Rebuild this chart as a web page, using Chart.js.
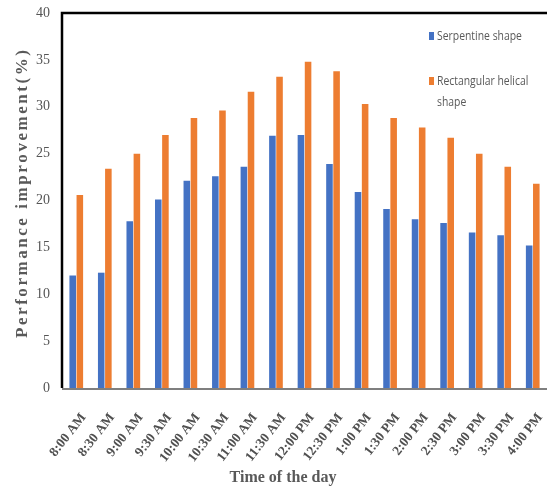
<!DOCTYPE html>
<html>
<head>
<meta charset="utf-8">
<script src="https://cdn.jsdelivr.net/npm/chart.js@4.4.1/dist/chart.umd.min.js"></script>
<style>
  html, body { margin: 0; padding: 0; background: #fff; overflow: hidden; }
  #wrap { width: 547px; height: 488px; position: relative; }
</style>
</head>
<body>
<div id="wrap"><canvas id="chart"></canvas></div>
<script>
// chart data
const times = ["8:00 AM", "8:30 AM", "9:00 AM", "9:30 AM", "10:00 AM", "10:30 AM", "11:00 AM", "11:30 AM",
  "12:00 PM", "12:30 PM", "1:00 PM", "1:30 PM", "2:00 PM", "2:30 PM", "3:00 PM", "3:30 PM", "4:00 PM"];
const serpentine = [12.0, 12.3, 17.8, 20.1, 22.1, 22.6, 23.6, 26.9, 27.0, 23.9, 20.9, 19.1, 18.0, 17.6, 16.6, 16.3, 15.2];
const rectHelical = [20.6, 23.4, 25.0, 27.0, 28.8, 29.6, 31.6, 33.2, 34.8, 33.8, 30.3, 28.8, 27.8, 26.7, 25.0, 23.6, 21.8];
const yTicks = [0, 5, 10, 15, 20, 25, 30, 35, 40];

const BLUE = "#4472C4";
const ORANGE = "#ED7D31";

// draw text char by char so it stretches to a given length
function spacedText(ctx, text, cx, cy, length) {
  const chars = text.split("");
  const natural = chars.reduce((s, c) => s + ctx.measureText(c).width, 0);
  const gap = (length - natural) / (chars.length - 1);
  let x = cx - length / 2;
  chars.forEach(c => {
    ctx.fillText(c, x, cy);
    x += ctx.measureText(c).width + gap;
  });
}

// legend, axis titles, x labels and frame drawn by hand
const extras = {
  id: "extras",
  afterDraw(chart) {
    const ctx = chart.ctx;
    const area = chart.chartArea;
    const xs = chart.scales.x;
    ctx.save();

    // frame: top + left black, bottom grey
    ctx.strokeStyle = "#000";
    ctx.lineWidth = 2.5;
    ctx.beginPath();
    ctx.moveTo(area.left, area.bottom);
    ctx.lineTo(area.left, area.top);
    ctx.lineTo(547, area.top);
    ctx.stroke();
    ctx.strokeStyle = "#7f7f7f";
    ctx.lineWidth = 2;
    ctx.beginPath();
    ctx.moveTo(area.left, area.bottom + 1);
    ctx.lineTo(547, area.bottom + 1);
    ctx.stroke();

    // x tick labels, rotated
    ctx.fillStyle = "#505050";
    ctx.font = "bold 13.5px 'Liberation Serif', serif";
    ctx.textAlign = "right";
    ctx.textBaseline = "top";
    times.forEach((t, i) => {
      ctx.save();
      ctx.translate(xs.getPixelForValue(i) + 2, area.bottom + 23);
      ctx.rotate(-52 * Math.PI / 180);
      ctx.fillText(t, 0, 0);
      ctx.restore();
    });

    // legend
    ctx.font = "13px 'Open Sans', sans-serif";
    ctx.textBaseline = "middle";
    ctx.textAlign = "left";
    const items = [
      { color: BLUE, lines: ["Serpentine shape"], y: 36 },
      { color: ORANGE, lines: ["Rectangular helical", "shape"], y: 81 }
    ];
    items.forEach(it => {
      ctx.fillStyle = it.color;
      ctx.fillRect(429, it.y - 4, 5, 8);
      ctx.fillStyle = "#595959";
      it.lines.forEach((t, i) => {
        ctx.save();
        ctx.translate(437, it.y + i * 21);
        ctx.scale(0.8, 1);
        ctx.fillText(t, 0, 0);
        ctx.restore();
      });
    });

    // y title
    ctx.fillStyle = "#595959";
    ctx.font = "bold 17px 'Liberation Serif', serif";
    ctx.textAlign = "left";
    ctx.translate(23, 194);
    ctx.rotate(-Math.PI / 2);
    spacedText(ctx, "Performance improvement(%)", 0, 0, 288);
    ctx.restore();

    // x title
    ctx.save();
    ctx.fillStyle = "#595959";
    ctx.font = "bold 16px 'Liberation Serif', serif";
    ctx.textAlign = "center";
    ctx.textBaseline = "middle";
    ctx.fillText("Time of the day", 283, 478);
    ctx.restore();
  }
};

new Chart(document.getElementById("chart"), {
  type: "bar",
  data: {
    labels: times,
    datasets: [
      { label: "Serpentine shape", data: serpentine, backgroundColor: BLUE,
        categoryPercentage: 0.5, barPercentage: 0.92 },
      { label: "Rectangular helical shape", data: rectHelical, backgroundColor: ORANGE,
        categoryPercentage: 0.5, barPercentage: 0.92 }
    ]
  },
  options: {
    responsive: true,
    maintainAspectRatio: false,
    animation: false,
    layout: { padding: { top: 13, right: 0, left: 0, bottom: 0 } },
    plugins: { legend: { display: false }, tooltip: { enabled: false } },
    scales: {
      x: {
        grid: { display: false, drawTicks: false },
        border: { display: false },
        ticks: { display: false },
        afterFit(scale) {
          scale.height = 100;
          scale.paddingLeft = 0;
          scale.paddingRight = 0;
        }
      },
      y: {
        min: 0, max: 40,
        afterBuildTicks(scale) { scale.ticks = yTicks.map(v => ({ value: v })); },
        grid: { display: false, drawTicks: false },
        border: { display: false },
        ticks: {
          padding: 12,
          color: "#555",
          font: { family: "'Liberation Serif', serif", size: 14 }
        },
        afterFit(scale) {
          scale.width = 62;
          scale.paddingTop = 0;
          scale.paddingBottom = 0;
        }
      }
    }
  },
  plugins: [extras]
});
</script>
</body>
</html>
